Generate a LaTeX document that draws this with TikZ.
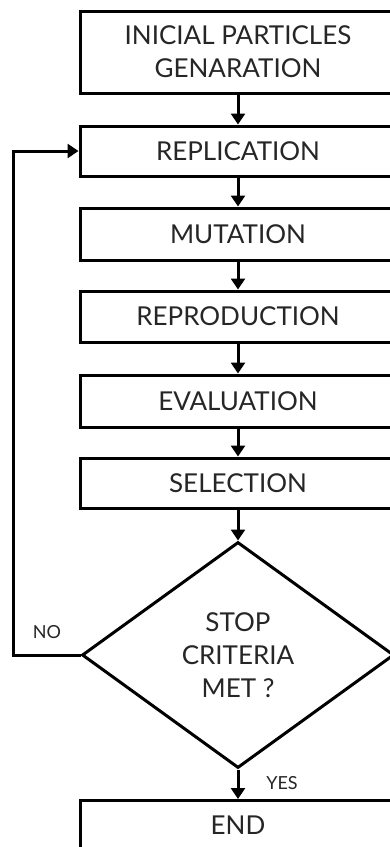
\documentclass[tikz,border=0pt]{standalone}
\usepackage{fontspec}
\setmainfont{Lato}
\usetikzlibrary{shapes.geometric,arrows.meta}
\begin{document}
\begin{tikzpicture}[x=1pt,y=-1pt,
  every node/.style={font=\fontsize{26}{33}\selectfont, text=black!85},
  stepbox/.style={draw, line width=3pt, minimum width=316pt, inner sep=0pt, align=center},
  decision/.style={draw, diamond, line width=3pt, minimum width=312pt, minimum height=226pt, inner sep=0pt, align=center},
  flow/.style={line width=3pt, -{Triangle[length=11pt,width=14pt]}},
  tag/.style={font=\fontsize{18}{20}\selectfont}]
  \useasboundingbox (0,0) rectangle (390,847);
  \clip (0,0) rectangle (390,847);
  \fill[white] (0,0) rectangle (390,847);

  \node[stepbox, minimum height=82pt] (init) at (238,52) {INICIAL PARTICLES\\GENARATION};
  \node[stepbox, minimum height=50pt] (repl) at (238,151) {REPLICATION};
  \node[stepbox, minimum height=52pt] (mut) at (238,234) {MUTATION};
  \node[stepbox, minimum height=51pt] (repro) at (238,316.5) {REPRODUCTION};
  \node[stepbox, minimum height=52pt] (eval) at (238,401) {EVALUATION};
  \node[stepbox, minimum height=50pt] (sel) at (238,483) {SELECTION};
  \node[decision] (stop) at (238,655) {STOP\\CRITERIA\\MET ?};
  \node[stepbox, minimum height=56pt, anchor=north] (end) at (238,799) {\raisebox{6pt}{END}};

  \draw[flow] (init) -- (repl);
  \draw[flow] (repl) -- (mut);
  \draw[flow] (mut) -- (repro);
  \draw[flow] (repro) -- (eval);
  \draw[flow] (eval) -- (sel);
  \draw[flow] (sel) -- (stop);
  \draw[flow] (stop.south) -- (end.north);

  \coordinate (back) at (13,655);
  \draw[flow] (stop.west) -- (back) |- (repl.west);

  \node[tag] (nolabel) at (47,632) {NO};
  \node[tag] (yeslabel) at (282,783) {YES};
\end{tikzpicture}
\end{document}
